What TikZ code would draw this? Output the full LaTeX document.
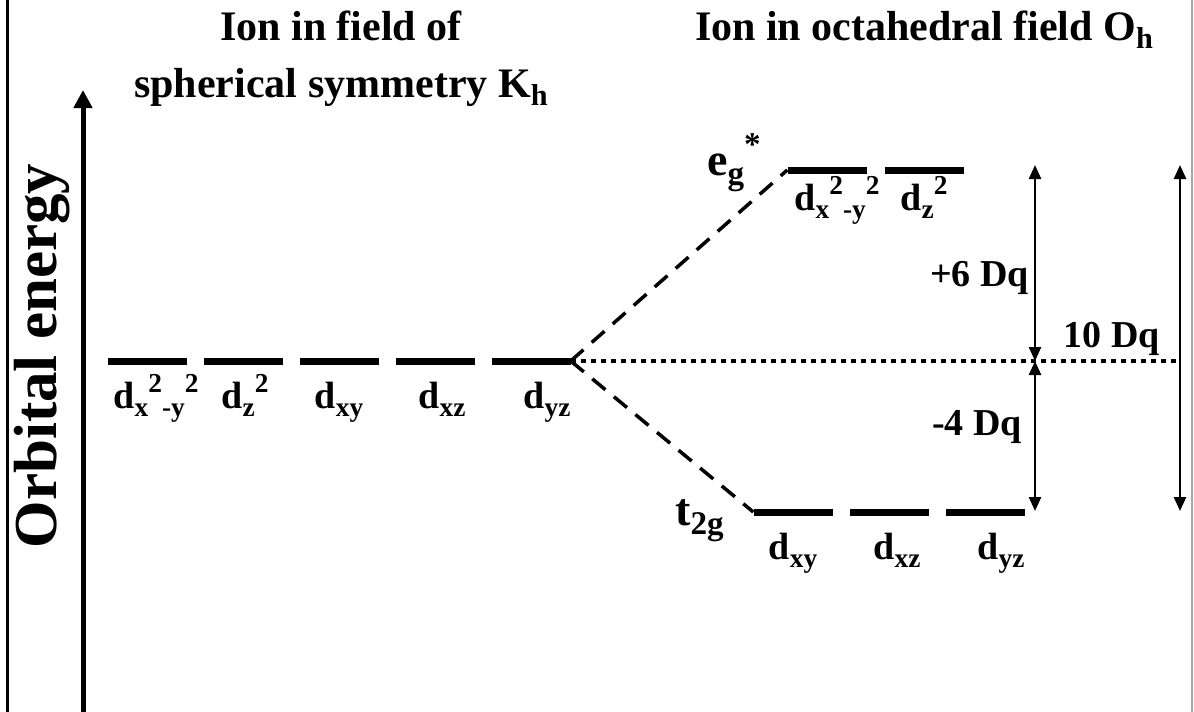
\documentclass[tikz,border=0pt]{standalone}
\usepackage{fontspec}
\setmainfont{Liberation Serif}
\usetikzlibrary{arrows.meta, positioning}

\makeatletter
\newcommand{\dnidx}[1]{\raisebox{-0.2em}{\fontsize{\fpeval{0.72*\f@size}}{0}\selectfont #1}}
\newcommand{\upidx}[1]{\raisebox{0.42em}{\fontsize{\fpeval{0.72*\f@size}}{0}\selectfont #1}}
\makeatother

\begin{document}
\begin{tikzpicture}[
    x=1pt, y=-1pt,
    level/.style={
        rectangle, fill=black, inner sep=0pt,
        minimum width=79pt, minimum height=7pt
    },
    orbital/.style={font=\fontsize{38}{40}\selectfont\bfseries, inner sep=0pt},
    title/.style={font=\fontsize{42}{57}\selectfont\bfseries, align=center, inner sep=0pt, anchor=base},
    term/.style={font=\fontsize{46}{50}\selectfont\bfseries, inner sep=0pt, anchor=base},
    split/.style={dash pattern=on 17pt off 11pt, line width=3.5pt},
    gap/.style={{Triangle[length=14pt,width=12pt]}-{Triangle[length=14pt,width=12pt]}, line width=2.5pt},
    energy/.style={-{Triangle[length=18pt,width=18pt]}, line width=5pt}
]
\useasboundingbox (0,0) rectangle (1194,712);

% Frame
\draw[line width=3pt] (7,0) -- (7,712);
\draw[line width=1.5pt, black!35] (1192,0) -- (1192,712);

% Energy axis
\coordinate (ax0) at (83,712);
\coordinate (ax1) at (83,90);
\draw[energy] (ax0) -- (ax1);
\node[font=\fontsize{61}{63}\selectfont\bfseries, rotate=90, anchor=base, inner sep=0pt] (axlabel) at (56,356) {Orbital energy};

% Titles
\node[title] (tsph1) at (341,40) {Ion in field of};
\node[title] (tsph2) at (341,97) {spherical symmetry K\dnidx{h}};
\node[title] (toct) at (924,40) {Ion in octahedral field O\dnidx{h}};

% Free ion: five degenerate d levels
\node[level] (k1) at (147,361) {};
\node[level] (k2) at (243,361) {};
\node[level] (k3) at (339,361) {};
\node[level] (k4) at (435,361) {};
\node[level] (k5) at (531,361) {};
\node[orbital, below=44pt of k1.south, anchor=base, xshift=9pt] (lk1) {d\dnidx{x}\upidx{2}\dnidx{-y}\upidx{2}};
\node[orbital, below=44pt of k2.south, anchor=base, xshift=2pt] (lk2) {d\dnidx{z}\upidx{2}};
\node[orbital, below=44pt of k3.south, anchor=base] (lk3) {d\dnidx{xy}};
\node[orbital, below=44pt of k4.south, anchor=base, xshift=7pt] (lk4) {d\dnidx{xz}};
\node[orbital, below=44pt of k5.south, anchor=base, xshift=16pt] (lk5) {d\dnidx{yz}};

% Octahedral field: e_g set
\node[level] (e1) at (827,170) {};
\node[level] (e2) at (924,170) {};
\node[orbital, below=37pt of e1.south, anchor=base, xshift=10pt] (le1) {d\dnidx{x}\upidx{2}\dnidx{-y}\upidx{2}};
\node[orbital, below=37pt of e2.south, anchor=base] (le2) {d\dnidx{z}\upidx{2}};
\node[term, anchor=base west] (eg) at (707,175) {e\dnidx{g}\upidx{*}};

% Octahedral field: t_2g set
\node[level] (t1) at (793,512) {};
\node[level] (t2) at (889,512) {};
\node[level] (t3) at (985,512) {};
\node[orbital, below=44pt of t1.south, anchor=base] (lt1) {d\dnidx{xy}};
\node[orbital, below=44pt of t2.south, anchor=base, xshift=8pt] (lt2) {d\dnidx{xz}};
\node[orbital, below=44pt of t3.south, anchor=base, xshift=16pt] (lt3) {d\dnidx{yz}};
\node[term, anchor=base east] (t2g) at (724,525) {t\dnidx{2g}};

% Splitting
\draw[split] (k5.east) -- (e1.west);
\draw[split] (k5.east) -- (t1.west);
\coordinate (far) at (1180,361);
\draw[line width=4pt, dash pattern=on 5pt off 5pt] (k5.east) -- (far);

% Splitting energies
\coordinate (gtop) at (1035,165);
\coordinate (gmid) at (1035,361);
\coordinate (gbot) at (1035,511);
\coordinate (dtop) at (1180,165);
\coordinate (dbot) at (1180,511);
\draw[gap] (gtop) -- (gmid);
\draw[gap] (gmid) -- (gbot);
\draw[gap] (dtop) -- (dbot);
\node[orbital, anchor=base east] (up) at (1029,286) {+6 Dq};
\node[orbital, anchor=base east] (down) at (1022,435) {-4 Dq};
\node[orbital, anchor=base] (total) at (1112,347) {10 Dq};

\end{tikzpicture}
\end{document}
